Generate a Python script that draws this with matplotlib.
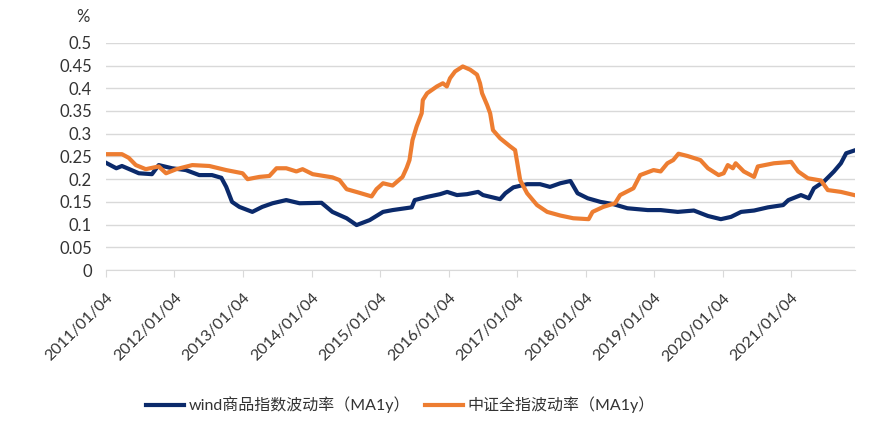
import pandas as pd
import matplotlib
matplotlib.use("Agg")
import matplotlib.pyplot as plt
import matplotlib.transforms as mtransforms

plt.rcParams["font.family"] = ["Lato", "Noto Sans CJK SC", "DejaVu Sans"]

# wind商品指数波动率（MA1y）
blue_dates = [
    "2011-01-04", "2011-02-28", "2011-03-30", "2011-05-20", "2011-06-28",
    "2011-09-06", "2011-10-12", "2011-12-22", "2012-03-05", "2012-05-15",
    "2012-07-22", "2012-09-10", "2012-10-06", "2012-11-06", "2012-12-15",
    "2013-02-22", "2013-04-16", "2013-06-10", "2013-08-22", "2013-11-01",
    "2014-02-26", "2014-04-25", "2014-07-10", "2014-09-01", "2014-11-10",
    "2015-01-20", "2015-03-12", "2015-06-22", "2015-07-08", "2015-09-12",
    "2015-11-20", "2015-12-28", "2016-02-18", "2016-04-12", "2016-06-10",
    "2016-07-06", "2016-10-05", "2016-11-02", "2016-12-15", "2017-02-26",
    "2017-05-06", "2017-06-28", "2017-08-22", "2017-10-15", "2017-11-22",
    "2018-01-15", "2018-03-24", "2018-06-01", "2018-08-15", "2018-12-01",
    "2019-02-08", "2019-05-10", "2019-08-04", "2019-10-18", "2019-12-26",
    "2020-02-18", "2020-04-12", "2020-06-20", "2020-09-02", "2020-11-22",
    "2020-12-20", "2021-02-25", "2021-04-08", "2021-05-05", "2021-06-28",
    "2021-08-20", "2021-09-26", "2021-10-24", "2021-12-06",
]
blue_values = [
    0.236, 0.224, 0.229, 0.220, 0.213,
    0.211, 0.231, 0.224, 0.220, 0.209,
    0.209, 0.203, 0.183, 0.150, 0.139,
    0.128, 0.139, 0.147, 0.154, 0.147,
    0.148, 0.128, 0.114, 0.099, 0.110,
    0.128, 0.132, 0.138, 0.154, 0.161,
    0.167, 0.172, 0.165, 0.167, 0.172,
    0.165, 0.156, 0.169, 0.182, 0.189,
    0.189, 0.183, 0.191, 0.196, 0.169,
    0.158, 0.150, 0.145, 0.136, 0.132,
    0.132, 0.128, 0.131, 0.119, 0.112,
    0.117, 0.128, 0.131, 0.138, 0.143,
    0.154, 0.165, 0.158, 0.180, 0.195,
    0.217, 0.235, 0.257, 0.263,
]

# 中证全指波动率（MA1y）
orange_dates = [
    "2011-01-04", "2011-03-30", "2011-05-05", "2011-06-12", "2011-08-04",
    "2011-10-12", "2011-11-20", "2012-01-14", "2012-04-08", "2012-07-08",
    "2012-10-06", "2013-01-01", "2013-01-28", "2013-04-01", "2013-05-24",
    "2013-07-01", "2013-08-22", "2013-10-15", "2013-11-17", "2014-01-10",
    "2014-04-25", "2014-06-02", "2014-07-10", "2014-09-16", "2014-11-20",
    "2014-12-16", "2015-01-20", "2015-03-12", "2015-05-04", "2015-05-26",
    "2015-06-10", "2015-06-26", "2015-07-18", "2015-08-14", "2015-08-20",
    "2015-09-12", "2015-11-03", "2015-12-05", "2015-12-26", "2016-01-12",
    "2016-02-08", "2016-03-20", "2016-04-28", "2016-06-04", "2016-06-20",
    "2016-07-01", "2016-07-28", "2016-08-13", "2016-08-28", "2016-10-05",
    "2016-11-28", "2016-12-24", "2017-01-05", "2017-01-20", "2017-02-26",
    "2017-04-20", "2017-06-13", "2017-08-22", "2017-10-30", "2018-01-20",
    "2018-02-10", "2018-04-08", "2018-06-10", "2018-07-07", "2018-09-16",
    "2018-10-22", "2019-01-01", "2019-02-08", "2019-03-16", "2019-04-16",
    "2019-05-14", "2019-07-01", "2019-09-08", "2019-10-18", "2019-12-14",
    "2020-01-10", "2020-02-01", "2020-02-28", "2020-03-14", "2020-04-26",
    "2020-06-20", "2020-07-10", "2020-10-04", "2021-01-04", "2021-02-10",
    "2021-04-03", "2021-06-12", "2021-07-18", "2021-09-26", "2021-12-06",
]
orange_values = [
    0.255, 0.255, 0.247, 0.231, 0.222,
    0.228, 0.213, 0.222, 0.231, 0.229,
    0.220, 0.213, 0.200, 0.205, 0.207,
    0.224, 0.224, 0.217, 0.222, 0.211,
    0.204, 0.198, 0.178, 0.170, 0.162,
    0.178, 0.191, 0.186, 0.205, 0.225,
    0.242, 0.286, 0.316, 0.345, 0.374,
    0.389, 0.404, 0.411, 0.404, 0.422,
    0.437, 0.448, 0.441, 0.430, 0.411,
    0.389, 0.363, 0.345, 0.308, 0.290,
    0.272, 0.264, 0.235, 0.198, 0.169,
    0.143, 0.128, 0.120, 0.114, 0.112,
    0.128, 0.139, 0.147, 0.165, 0.180,
    0.209, 0.220, 0.217, 0.235, 0.242,
    0.256, 0.251, 0.242, 0.224, 0.209,
    0.213, 0.231, 0.224, 0.235, 0.217,
    0.205, 0.228, 0.235, 0.238, 0.217,
    0.202, 0.197, 0.176, 0.172, 0.165,
]

tick_years = list(range(2011, 2022))
y_ticks = [0, 0.05, 0.1, 0.15, 0.2, 0.25, 0.3, 0.35, 0.4, 0.45, 0.5]
y_labels = ["0", "0.05", "0.1", "0.15", "0.2", "0.25", "0.3", "0.35", "0.4", "0.45", "0.5"]

BLUE = "#0B2A6B"
ORANGE = "#ED7D31"
GRID = "#D9D9D9"
TEXT = "#333333"

fig = plt.figure(figsize=(8.76, 4.37), dpi=100)
ax = fig.add_axes([0.121, 0.382, 0.855, 0.520])

ax.plot(pd.to_datetime(blue_dates), blue_values, color=BLUE, lw=3,
        label="wind商品指数波动率（MA1y）", solid_joinstyle="round")
ax.plot(pd.to_datetime(orange_dates), orange_values, color=ORANGE, lw=3,
        label="中证全指波动率（MA1y）", solid_joinstyle="round")

ax.set_ylim(0, 0.5)
ax.set_yticks(y_ticks)
ax.set_yticklabels(y_labels)
ax.set_xlim(pd.Timestamp("2011-01-04"), pd.Timestamp("2021-12-10"))
ticks = [pd.Timestamp(f"{y}-01-04") for y in tick_years]
ax.set_xticks(ticks)
ax.set_xticklabels([t.strftime("%Y/%m/%d") for t in ticks], rotation=45,
                   ha="right", va="top", rotation_mode="anchor")
# nudge the rotated date labels a bit right, like Excel does
shift = mtransforms.ScaledTranslation(5 / 100, 0, fig.dpi_scale_trans)
for lab in ax.get_xticklabels():
    lab.set_transform(lab.get_transform() + shift)

ax.grid(axis="y", color=GRID, lw=1)
ax.set_axisbelow(True)
for s in ["top", "right", "left"]:
    ax.spines[s].set_visible(False)
ax.spines["bottom"].set_color(GRID)
ax.tick_params(axis="y", length=0, labelsize=12, colors=TEXT, pad=10)
ax.tick_params(axis="x", length=5, color=GRID, labelsize=11.5, labelcolor=TEXT, pad=10)

ax.text(-0.031, 1.115, "%", transform=ax.transAxes, ha="center", va="center",
        fontsize=12, color=TEXT)

fig.legend(loc="center", bbox_to_anchor=(0.457, 0.073), ncol=2, frameon=False,
           fontsize=11.5, handlelength=2.4, columnspacing=0.9, handletextpad=0.3,
           labelcolor=TEXT)

fig.savefig("out.png", dpi=100)
